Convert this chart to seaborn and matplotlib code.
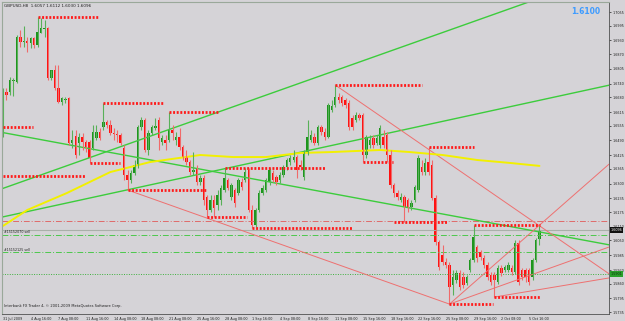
import numpy as np
import seaborn as sns
import matplotlib
matplotlib.use("Agg")
import matplotlib.pyplot as plt

# GBPUSD H8 candles
opens = [1.6514, 1.6703, 1.6703, 1.6752, 1.6747, 1.6945, 1.6923, 1.6928, 1.6919, 1.6941,
         1.6910, 1.6963, 1.6980, 1.6985, 1.6765, 1.6800, 1.6721, 1.6659, 1.6668, 1.6677,
         1.6479, 1.6510, 1.6479, 1.6505, 1.6483, 1.6483, 1.6457, 1.6501, 1.6527, 1.6549,
         1.6571, 1.6558, 1.6523, 1.6518, 1.6514, 1.6457, 1.6338, 1.6316, 1.6347, 1.6382,
         1.6549, 1.6580, 1.6448, 1.6523, 1.6545, 1.6580, 1.6483, 1.6492, 1.6492, 1.6536,
         1.6492, 1.6505, 1.6461, 1.6417, 1.6395, 1.6351, 1.6369, 1.6307, 1.6325, 1.6241,
         1.6184, 1.6228, 1.6206, 1.6228, 1.6272, 1.6316, 1.6241, 1.6272, 1.6259, 1.6307,
         1.6316, 1.6360, 1.6184, 1.6118, 1.6184, 1.6259, 1.6272, 1.6307, 1.6347, 1.6329,
         1.6316, 1.6338, 1.6373, 1.6395, 1.6404, 1.6417, 1.6382, 1.6329, 1.6435, 1.6492,
         1.6505, 1.6479, 1.6549, 1.6527, 1.6505, 1.6624, 1.6646, 1.6681, 1.6681, 1.6668,
         1.6655, 1.6589, 1.6580, 1.6602, 1.6602, 1.6426, 1.6470, 1.6501, 1.6479, 1.6470,
         1.6505, 1.6514, 1.6426, 1.6294, 1.6259, 1.6228, 1.6241, 1.6228, 1.6197, 1.6228,
         1.6272, 1.6373, 1.6351, 1.6395, 1.6382, 1.6237, 1.6043, 1.5986, 1.5955, 1.5942,
         1.5854, 1.5876, 1.5907, 1.5889, 1.5863, 1.5920, 1.5964, 1.6021, 1.5999, 1.5973,
         1.5942, 1.5898, 1.5898, 1.5867, 1.5929, 1.5920, 1.5920, 1.5929, 1.5911, 1.6039,
         1.5920, 1.5920, 1.5920, 1.5889, 1.5964, 1.6057]
closes = [1.6703, 1.6690, 1.6756, 1.6756, 1.6945, 1.6923, 1.6928, 1.6919, 1.6941, 1.6910,
          1.6967, 1.6985, 1.6985, 1.6765, 1.6800, 1.6721, 1.6659, 1.6677, 1.6672, 1.6479,
          1.6492, 1.6426, 1.6505, 1.6483, 1.6461, 1.6413, 1.6527, 1.6527, 1.6501, 1.6571,
          1.6558, 1.6523, 1.6518, 1.6514, 1.6479, 1.6338, 1.6316, 1.6347, 1.6382, 1.6549,
          1.6580, 1.6448, 1.6523, 1.6549, 1.6554, 1.6501, 1.6501, 1.6479, 1.6536, 1.6523,
          1.6505, 1.6461, 1.6413, 1.6395, 1.6351, 1.6360, 1.6307, 1.6325, 1.6228, 1.6184,
          1.6228, 1.6193, 1.6250, 1.6281, 1.6325, 1.6281, 1.6294, 1.6215, 1.6316, 1.6285,
          1.6351, 1.6184, 1.6118, 1.6184, 1.6259, 1.6281, 1.6316, 1.6360, 1.6316, 1.6307,
          1.6338, 1.6373, 1.6404, 1.6413, 1.6417, 1.6360, 1.6373, 1.6435, 1.6505, 1.6514,
          1.6479, 1.6549, 1.6527, 1.6505, 1.6646, 1.6642, 1.6681, 1.6668, 1.6655, 1.6646,
          1.6549, 1.6549, 1.6602, 1.6589, 1.6426, 1.6505, 1.6492, 1.6470, 1.6501, 1.6545,
          1.6470, 1.6426, 1.6294, 1.6259, 1.6241, 1.6241, 1.6197, 1.6197, 1.6215, 1.6285,
          1.6413, 1.6351, 1.6391, 1.6351, 1.6237, 1.6043, 1.5933, 1.5955, 1.5942, 1.5845,
          1.5889, 1.5907, 1.5845, 1.5854, 1.5889, 1.5964, 1.6065, 1.5973, 1.5977, 1.5942,
          1.5889, 1.5867, 1.5876, 1.5929, 1.5907, 1.5933, 1.5942, 1.5911, 1.6039, 1.5867,
          1.5889, 1.5889, 1.5867, 1.5964, 1.6052, 1.6096]
highs = [1.6721, 1.6721, 1.6769, 1.6765, 1.6954, 1.6976, 1.6994, 1.6945, 1.6945, 1.6945,
         1.7033, 1.7029, 1.7020, 1.6989, 1.6800, 1.6822, 1.6822, 1.6681, 1.6681, 1.6681,
         1.6536, 1.6536, 1.6523, 1.6523, 1.6492, 1.6492, 1.6558, 1.6558, 1.6545, 1.6655,
         1.6580, 1.6580, 1.6545, 1.6536, 1.6523, 1.6470, 1.6360, 1.6360, 1.6404, 1.6558,
         1.6593, 1.6589, 1.6536, 1.6558, 1.6589, 1.6593, 1.6514, 1.6514, 1.6615, 1.6558,
         1.6527, 1.6545, 1.6470, 1.6448, 1.6404, 1.6439, 1.6382, 1.6338, 1.6338, 1.6250,
         1.6250, 1.6250, 1.6272, 1.6294, 1.6369, 1.6325, 1.6303, 1.6281, 1.6325, 1.6325,
         1.6369, 1.6369, 1.6206, 1.6193, 1.6272, 1.6294, 1.6325, 1.6369, 1.6360, 1.6338,
         1.6351, 1.6382, 1.6413, 1.6426, 1.6448, 1.6426, 1.6404, 1.6448, 1.6580, 1.6536,
         1.6523, 1.6558, 1.6558, 1.6545, 1.6655, 1.6668, 1.6734, 1.6699, 1.6690, 1.6677,
         1.6668, 1.6602, 1.6615, 1.6611, 1.6611, 1.6514, 1.6514, 1.6514, 1.6514, 1.6558,
         1.6536, 1.6527, 1.6448, 1.6303, 1.6272, 1.6259, 1.6250, 1.6237, 1.6228, 1.6294,
         1.6426, 1.6404, 1.6413, 1.6461, 1.6404, 1.6250, 1.6052, 1.6030, 1.5973, 1.5955,
         1.5920, 1.5920, 1.5920, 1.5911, 1.5898, 1.5973, 1.6118, 1.6030, 1.6008, 1.5986,
         1.5955, 1.5911, 1.5911, 1.5942, 1.5942, 1.5942, 1.5955, 1.5942, 1.6052, 1.6052,
         1.5929, 1.5929, 1.5929, 1.5973, 1.6061, 1.6112]
lows = [1.6505, 1.6668, 1.6690, 1.6686, 1.6743, 1.6901, 1.6901, 1.6879, 1.6897, 1.6897,
        1.6901, 1.6963, 1.6945, 1.6756, 1.6756, 1.6712, 1.6655, 1.6646, 1.6655, 1.6470,
        1.6457, 1.6413, 1.6426, 1.6448, 1.6439, 1.6391, 1.6448, 1.6492, 1.6492, 1.6536,
        1.6545, 1.6514, 1.6492, 1.6483, 1.6470, 1.6316, 1.6272, 1.6303, 1.6338, 1.6369,
        1.6536, 1.6439, 1.6426, 1.6514, 1.6536, 1.6448, 1.6470, 1.6448, 1.6483, 1.6492,
        1.6470, 1.6448, 1.6404, 1.6382, 1.6338, 1.6338, 1.6294, 1.6294, 1.6206, 1.6153,
        1.6175, 1.6153, 1.6184, 1.6206, 1.6263, 1.6272, 1.6228, 1.6197, 1.6250, 1.6272,
        1.6307, 1.6175, 1.6105, 1.6109, 1.6175, 1.6250, 1.6263, 1.6294, 1.6307, 1.6294,
        1.6303, 1.6329, 1.6360, 1.6382, 1.6395, 1.6325, 1.6360, 1.6316, 1.6426, 1.6483,
        1.6470, 1.6470, 1.6514, 1.6492, 1.6501, 1.6615, 1.6637, 1.6655, 1.6642, 1.6633,
        1.6536, 1.6536, 1.6571, 1.6580, 1.6395, 1.6413, 1.6457, 1.6457, 1.6470, 1.6457,
        1.6457, 1.6395, 1.6281, 1.6241, 1.6228, 1.6219, 1.6131, 1.6175, 1.6184, 1.6219,
        1.6263, 1.6338, 1.6338, 1.6338, 1.6228, 1.6030, 1.5920, 1.5942, 1.5929, 1.5770,
        1.5810, 1.5863, 1.5832, 1.5841, 1.5854, 1.5911, 1.5955, 1.5955, 1.5964, 1.5929,
        1.5876, 1.5854, 1.5801, 1.5858, 1.5894, 1.5911, 1.5911, 1.5898, 1.5902, 1.5854,
        1.5876, 1.5867, 1.5854, 1.5876, 1.5955, 1.6030]

# moving average (yellow), sampled along the curve
ma_bar = [0, 7, 18.5, 31, 42.5, 57, 66.5, 76, 86, 95, 109, 117.5, 127, 137, 146.5, 155]
ma_val = [1.6114, 1.6184, 1.6259, 1.6351, 1.6395, 1.6426, 1.6417, 1.6417, 1.6435,
          1.6439, 1.6448, 1.6439, 1.6426, 1.6404, 1.6391, 1.6378]

# green trend lines: two anchor points each (bar, price), drawn full width
green_lines = [((59.8, 1.6602), (117.6, 1.6914)),
               ((6.4, 1.6175), (175.4, 1.6734)),
               ((-0.9, 1.6527), (175.4, 1.6030))]
# red trend segment and rays (bar, price)
red_segments = [((36, 1.6272), (129, 1.5770))]
red_rays = [((96, 1.6734), (148, 1.6188)),
            ((129, 1.5770), (160, 1.6184)),
            ((129, 1.5770), (175.1, 1.6021)),
            ((142, 1.5801), (175.1, 1.5885))]

# red dotted high/low markers: (price, start bar, end bar)
marker_price = [1.7033, 1.6549, 1.6334, 1.6655, 1.6391, 1.6615, 1.6272, 1.6153,
                1.6369, 1.6105, 1.6734, 1.6395, 1.6461, 1.6131, 1.6118, 1.5770, 1.5801]
marker_start = [10, 0, 0, 29, 25, 48, 36, 59, 64, 72, 96, 104, 123, 113, 136, 129, 142]
marker_end = [27.5, 8.7, 23.7, 46.2, 33.8, 62, 59, 70.5, 93, 101, 121, 112.7, 136,
              128.6, 155.2, 141.6, 155.2]

# horizontal levels
level_red = 1.6135
bid = 1.6096
sell_levels = [1.6074, 1.5998]
sell_labels = ["#15152070 sell", "#15152125 sell"]
tp_level = 1.5901

ytick_labels = ["1.5735", "1.5795", "1.5860", "1.5920", "1.5985", "1.6050", "1.6110",
                "1.6175", "1.6235", "1.6300", "1.6365", "1.6425", "1.6490", "1.6555",
                "1.6615", "1.6680", "1.6740", "1.6805", "1.6870", "1.6930", "1.6995",
                "1.7055"]
xtick_bars = list(range(0, 153, 8))
xtick_labels = ["31 Jul 2009", "4 Aug 16:00", "7 Aug 08:00", "11 Aug 16:00", "14 Aug 08:00",
                "18 Aug 08:00", "21 Aug 08:00", "25 Aug 16:00", "28 Aug 08:00", "1 Sep 16:00",
                "4 Sep 08:00", "8 Sep 16:00", "11 Sep 08:00", "15 Sep 16:00", "18 Sep 16:00",
                "22 Sep 16:00", "25 Sep 08:00", "29 Sep 16:00", "2 Oct 08:00", "5 Oct 16:00"]

sns.set_style("white")
plt.rcParams['font.family'] = ['DejaVu Sans']

bg = '#d5d3d7'
fig = plt.figure(figsize=(6.25, 3.21), dpi=100, facecolor=bg)
ax = fig.add_axes([0.0032, 0.0218, 0.9712, 0.972])
ax.set_facecolor(bg)

xmin, xmax = -0.3, 175.1
ax.set_xlim(xmin, xmax)
ax.set_ylim(1.57264, 1.70992)

o = np.array(opens)
c = np.array(closes)
h = np.array(highs)
l = np.array(lows)
idx = np.arange(len(o))
up = c >= o

# horizontal levels behind the candles
ax.axhline(level_red, color='#e06a6a', lw=0.7, ls=(0, (6, 2, 1, 2)))
ax.axhline(bid, color='#a9b0a9', lw=0.8)
for lv in sell_levels:
    ax.axhline(lv, color='#4cc84c', lw=0.7, ls=(0, (6, 2, 1, 2)))
ax.axhline(tp_level, color='#3db03d', lw=0.7, ls=(0, (1, 1.5)))

# trend lines
for p1, p2 in green_lines:
    ax.axline(p1, p2, color='#3ccc3c', lw=1.0)
for p1, p2 in red_segments:
    ax.plot([p1[0], p2[0]], [p1[1], p2[1]], color='#ee7070', lw=0.7)
for p1, p2 in red_rays:
    slope = (p2[1] - p1[1]) / (p2[0] - p1[0])
    ax.plot([p1[0], xmax], [p1[1], p1[1] + slope * (xmax - p1[0])], color='#ee7070', lw=0.7)

# moving average
sns.lineplot(x=ma_bar, y=ma_val, ax=ax, color='#f2f000', lw=1.4)

# candles
ax.vlines(idx[up], l[up], h[up], color='#58b058', lw=0.8)
ax.vlines(idx[~up], l[~up], h[~up], color='#f06a6a', lw=0.8)
body = np.maximum(np.abs(c - o), 0.0004)
ax.bar(idx[up], body[up], bottom=np.minimum(o, c)[up], width=0.7, color='#1c941c', linewidth=0)
ax.bar(idx[~up], body[~up], bottom=np.minimum(o, c)[~up], width=0.7, color='#ff1010', linewidth=0)

# dotted high/low markers
ax.hlines(marker_price, marker_start, marker_end, color='#ff1a1a', lw=2.0, ls=(0, (0.7, 0.6)))

# texts
ax.text(0.003, 0.995, "GBPUSD,H8  1.6057 1.6112 1.6030 1.6096", transform=ax.transAxes,
        fontsize=3, va='top', ha='left', color='#202020')
for lv, lab in zip(sell_levels, sell_labels):
    ax.text(0.3, lv + 0.0003, lab, fontsize=2.3, va='bottom', ha='left', color='#202020')
ax.text(0.003, 0.018, "Interbank FX Trader 4, \u00a9 2001-2009 MetaQuotes Software Corp.",
        transform=ax.transAxes, fontsize=2.6, va='bottom', ha='left', color='#202020')
fig.text(586 / 625, 1 - 11 / 321, "1.6100", fontsize=5.5, color='#3d9bff',
         ha='center', va='center', fontweight='bold')

# axes styling
ax.yaxis.tick_right()
ax.set_yticks([float(t) for t in ytick_labels])
ax.set_yticklabels(ytick_labels)
ax.set_xticks(xtick_bars)
ax.set_xticklabels(xtick_labels, ha='left')
ax.tick_params(axis='y', labelsize=2.4, length=1.5, width=0.5, pad=1, colors='#202020')
ax.tick_params(axis='x', labelsize=2.4, length=1.5, width=0.5, pad=1, colors='#202020')
for side in ['left', 'top']:
    ax.spines[side].set_color('#9aa89a')
    ax.spines[side].set_linewidth(0.8)
for side in ['right', 'bottom']:
    ax.spines[side].set_color('#505050')
    ax.spines[side].set_linewidth(0.6)

# price tags on the right scale
ax.text(1.003, bid, "1.6096", transform=ax.get_yaxis_transform(), fontsize=2.4,
        color='white', va='center', ha='left',
        bbox=dict(boxstyle='square,pad=0.25', fc='#101010', ec='none'))
ax.text(1.003, tp_level, "1.5901", transform=ax.get_yaxis_transform(), fontsize=2.4,
        color='#103010', va='center', ha='left',
        bbox=dict(boxstyle='square,pad=0.25', fc='#2aa02a', ec='none'))

fig.savefig("out.png", dpi=100, facecolor=bg)
